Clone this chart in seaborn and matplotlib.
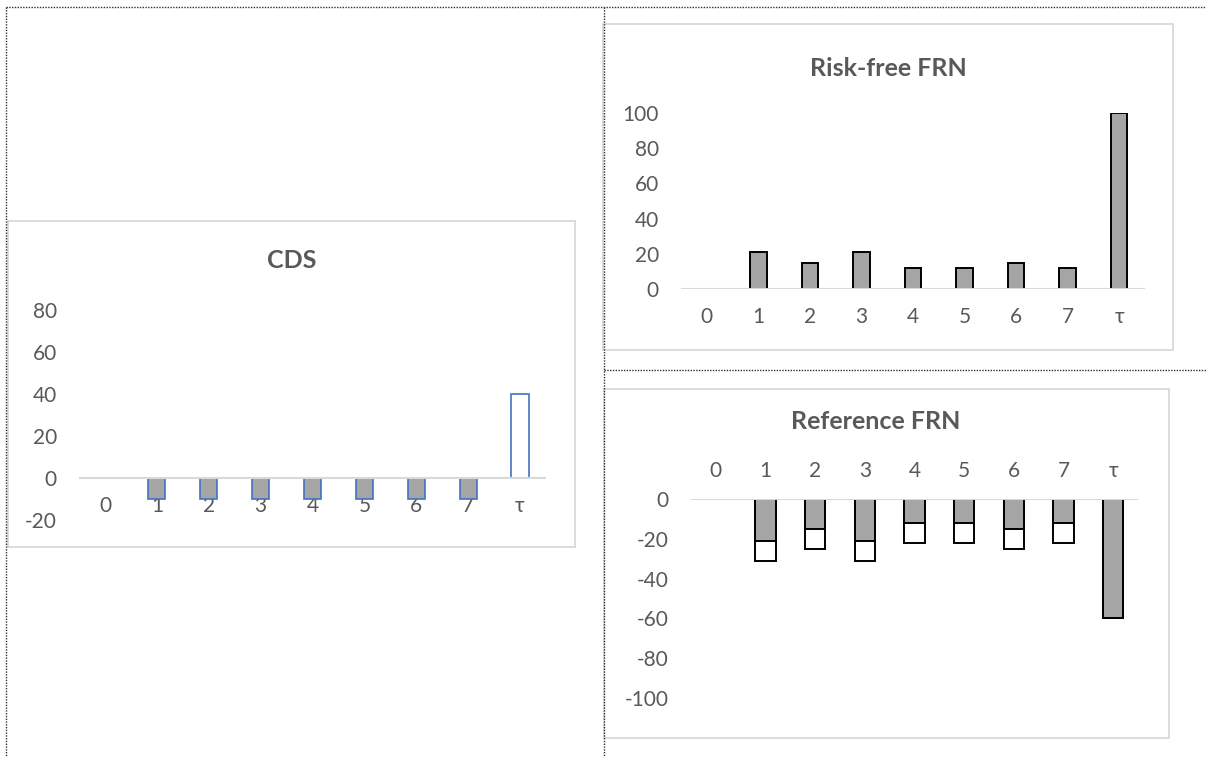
# cash flow bars: CDS, risk-free FRN, reference FRN

import matplotlib.pyplot as plt
import seaborn as sns
import pandas as pd
from matplotlib.lines import Line2D
from matplotlib.patches import Rectangle

periods = ['0', '1', '2', '3', '4', '5', '6', '7', 'τ']
cds_flows = [0, -10, -10, -10, -10, -10, -10, -10, 40]
riskfree_flows = [0, 21, 15, 21, 12, 12, 15, 12, 100]
ref_floating = [0, -21, -15, -21, -12, -12, -15, -12, -60]
ref_spread = [0, -10, -10, -10, -10, -10, -10, -10, 0]

cds_ticks = [-20, 0, 20, 40, 60, 80]
rf_ticks = [0, 20, 40, 60, 80, 100]
ref_ticks = [-100, -80, -60, -40, -20, 0]

sns.set_theme(style='white')
plt.rcParams['font.family'] = ['Lato', 'DejaVu Sans']
plt.rcParams['axes.unicode_minus'] = False

TXT = '#595959'
GRAY = '#a5a5a5'
BLUE = '#4472c4'
W, H = 1206, 757

fig = plt.figure(figsize=(W / 100, H / 100), dpi=100)


def px_axes(x0, y0, x1, y1):
    return fig.add_axes([x0 / W, 1 - y1 / H, (x1 - x0) / W, (y1 - y0) / H])


def page_line(xs, ys):
    fig.add_artist(Line2D([x / W for x in xs], [1 - y / H for y in ys],
                          transform=fig.transFigure, ls=(0, (1, 1)),
                          color='#303030', lw=1.0))


def chart_box(x0, y0, x1, y1):
    fig.add_artist(Rectangle((x0 / W, 1 - y1 / H), (x1 - x0) / W, (y1 - y0) / H,
                             transform=fig.transFigure, fill=False,
                             ec='#d9d9d9', lw=1.3))


def style_axis(ax, ticks, lim):
    ax.set_ylim(lim)
    ax.set_yticks(ticks)
    ax.set_xlabel('')
    ax.set_ylabel('')
    for s in ax.spines.values():
        s.set_visible(False)
    ax.axhline(0, color='#d9d9d9', lw=1.5, zorder=3)
    ax.tick_params(axis='both', length=0, labelsize=15, labelcolor=TXT)
    ax.tick_params(axis='y', pad=16)
    ax.tick_params(axis='x', pad=13)
    ax.patch.set_alpha(0)
    for p in ax.patches:
        if p.get_height() == 0:
            p.set_visible(False)


# page layout (dotted table borders)
page_line([6, 6], [7, 757])
page_line([6, 1206], [7, 7])
page_line([604, 604], [7, 757])
page_line([604, 1206], [370, 370])

chart_box(8, 221, 575, 547)
chart_box(603, 24, 1173, 350)
chart_box(604, 389, 1169, 738)

# CDS
ax1 = px_axes(79, 310, 546, 520)
sns.barplot(x=periods, y=cds_flows, ax=ax1, width=0.33, color=GRAY,
            saturation=1, edgecolor=BLUE, linewidth=1.2)
for p, v in zip(ax1.patches, cds_flows):
    if v > 0:
        p.set_facecolor('white')
ax1.spines['bottom'].set_position(('data', 0))
style_axis(ax1, cds_ticks, (-20, 80))
fig.text(292 / W, 1 - 260 / H, 'CDS', ha='center', va='center',
         fontsize=18, fontweight='bold', color=TXT)

# Risk-free FRN
ax2 = px_axes(681, 113, 1145, 289)
sns.barplot(x=periods, y=riskfree_flows, ax=ax2, width=0.32, color=GRAY,
            saturation=1, edgecolor='black', linewidth=1.4)
style_axis(ax2, rf_ticks, (0, 100))
fig.text(888 / W, 1 - 68 / H, 'Risk-free FRN', ha='center', va='center',
         fontsize=18, fontweight='bold', color=TXT)

# Reference FRN: floating coupon (gray) stacked over spread (white)
ref_total = [f + s for f, s in zip(ref_floating, ref_spread)]
ax3 = px_axes(691, 499, 1138, 698)
sns.barplot(x=periods, y=ref_total, ax=ax3, width=0.41, color='white',
            saturation=1, edgecolor='black', linewidth=1.4)
sns.barplot(x=periods, y=ref_floating, ax=ax3, width=0.41, color=GRAY,
            saturation=1, edgecolor='black', linewidth=1.4)
ax3.xaxis.tick_top()
style_axis(ax3, ref_ticks, (-100, 0))
fig.text(876 / W, 1 - 422 / H, 'Reference FRN', ha='center', va='center',
         fontsize=18, fontweight='bold', color=TXT)

fig.savefig('out.png', dpi=100, facecolor='white')
